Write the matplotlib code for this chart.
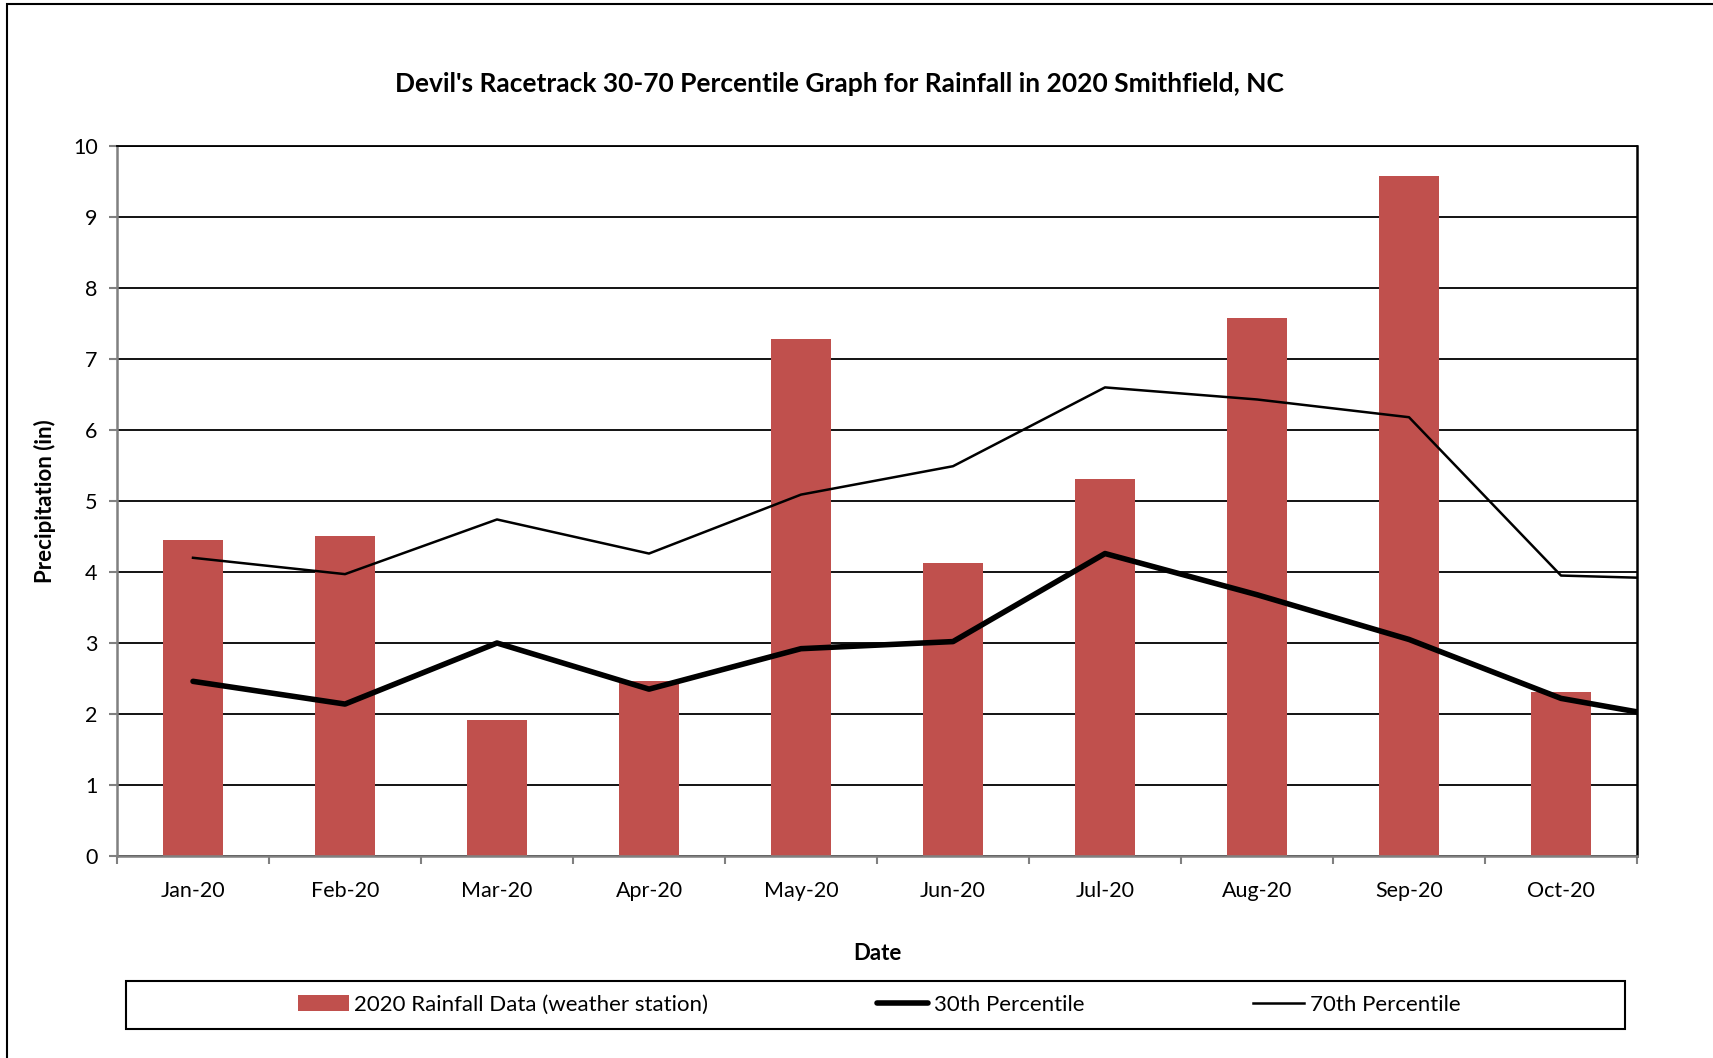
import numpy as np
import matplotlib
matplotlib.use('Agg')
import matplotlib.pyplot as plt
from matplotlib.patches import Rectangle

plt.rcParams['font.family'] = ['Lato', 'DejaVu Sans']

# data
months = ['Jan-20', 'Feb-20', 'Mar-20', 'Apr-20', 'May-20',
          'Jun-20', 'Jul-20', 'Aug-20', 'Sep-20', 'Oct-20']
rain_2020 = [4.45, 4.51, 1.91, 2.46, 7.28, 4.12, 5.31, 7.58, 9.58, 2.31]
# percentile series carry one more point (Nov) that is cut off at the axis edge
pct30 = [2.46, 2.14, 3.00, 2.35, 2.92, 3.02, 4.26, 3.68, 3.05, 2.22, 1.84]
pct70 = [4.20, 3.97, 4.74, 4.26, 5.09, 5.49, 6.60, 6.43, 6.18, 3.95, 3.89]

fig = plt.figure(figsize=(17.13, 10.58), dpi=100)
fig.set_facecolor('white')

# outer chart border
fig.patches.append(Rectangle((7 / 1713, -0.05), 1.1, 1 - 4 / 1058 + 0.05,
                             transform=fig.transFigure, fill=False,
                             edgecolor='black', linewidth=1.5))

ax = fig.add_axes([117 / 1713, 1 - 856 / 1058, 1520 / 1713, 710 / 1058])

x = np.arange(len(months))
bars = ax.bar(x, rain_2020, width=0.4, color='#C0504D', zorder=2,
              label='2020 Rainfall Data (weather station)')
l30, = ax.plot(np.arange(len(pct30)), pct30, color='black', linewidth=4,
               zorder=3, label='30th Percentile', solid_capstyle='round')
l70, = ax.plot(np.arange(len(pct70)), pct70, color='black', linewidth=1.8,
               zorder=3, label='70th Percentile')

ax.set_xlim(-0.5, len(months) - 0.5)
ax.set_ylim(0, 10)
ax.set_yticks(range(0, 11))
ax.yaxis.grid(True, color='black', linewidth=1.3, zorder=1)
ax.set_axisbelow(True)

# category ticks between months, labels centred
ax.set_xticks(np.arange(-0.5, len(months), 1.0))
ax.set_xticklabels([])
ax.set_xticks(x, minor=True)
ax.set_xticklabels(months, minor=True, fontsize=15.5)
ax.tick_params(axis='x', which='minor', length=0, pad=18)
ax.tick_params(axis='x', which='major', direction='out', length=6, color='#808080', width=1.5)
ax.tick_params(axis='y', direction='out', length=6, color='#808080', width=1.5,
               labelsize=15.5, pad=8)

for s in ['left', 'bottom']:
    ax.spines[s].set_color('#808080')
    ax.spines[s].set_linewidth(1.8)
ax.spines['right'].set_color('black')
ax.spines['right'].set_linewidth(1.8)
ax.spines['top'].set_color('black')
ax.spines['top'].set_linewidth(1.3)

ax.set_ylabel('Precipitation (in)', fontsize=16, fontweight='bold', labelpad=12)
ax.set_xlabel('Date', fontsize=16, fontweight='bold', labelpad=30)
fig.text(839 / 1713, 1 - 84 / 1058,
         "Devil's Racetrack 30-70 Percentile Graph for Rainfall in 2020 Smithfield, NC",
         ha='center', va='center', fontsize=19, fontweight='bold')

# legend box
fig.patches.append(Rectangle((126 / 1713, 1 - 1029 / 1058), 1499 / 1713, 48 / 1058,
                             transform=fig.transFigure, fill=False,
                             edgecolor='black', linewidth=1.5))
fig.legend(handles=[bars, l30, l70], loc='center',
           bbox_to_anchor=(879 / 1713, 1 - 1005 / 1058), ncol=3, frameon=False,
           fontsize=16, handlelength=2.3, handletextpad=0.25, columnspacing=7.6)

fig.savefig('out.png', dpi=100)
